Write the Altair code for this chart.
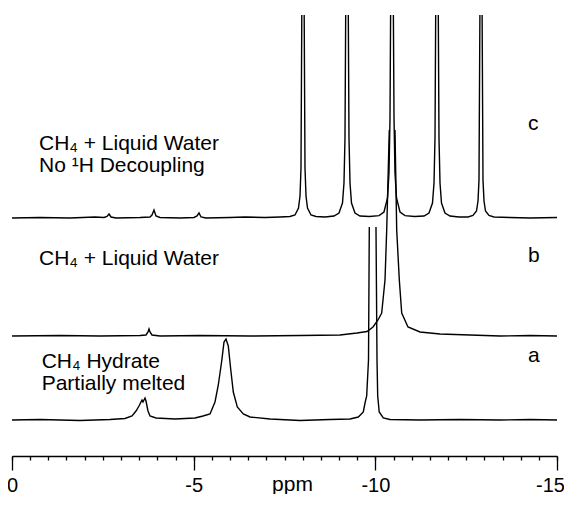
import altair as alt
import numpy as np
import pandas as pd

# ---- spectra: chemical shift (ppm) and intensity (a.u.)
# None marks where a peak runs off the top of its panel
a_ppm = [0, -0.771, -1.872, -2.697, -3.110, -3.303, -3.413, -3.495, -3.550, -3.578, -3.605,
         -3.661, -3.688, -3.743, -3.798, -3.963, -4.486, -5.037, -5.257, -5.450, -5.587,
         -5.678, -5.772, -5.835, -5.890, -5.953, -6.019, -6.091, -6.201, -6.366, -6.550,
         -7.101, -7.927, -8.752, -9.303, -9.531, -9.669, -9.716, -9.762, -9.812, -9.834,
         -9.927, -10.018, -10.046, -10.065, -10.107, -10.219, -10.404, -11.229, -12.330,
         -13.431, -14.257, -15.0]
a_int = [0, 0.5, -0.5, 0.5, 1.5, 4, 9, 14, 18, 20, 18,
         22, 19, 9, 4, 2, 1, 2, 4, 6, 18,
         35, 59, 78, 81, 74, 51, 28, 13, 6, 3,
         1, -0.5, 0.5, 1, 3, 8, 17, 24, 60, 193,
         None, 193, 60, 24, 8, 2, 0.5, 0, 0.5,
         0, 0.5, 0]

b_ppm = [0, -1.321, -2.422, -3.523, -3.688, -3.743, -3.771, -3.798, -3.853, -4.073, -5.174,
         -6.550, -7.927, -9.028, -9.495, -9.771, -9.936, -10.073, -10.175, -10.266, -10.313,
         -10.384, -10.459, -10.541, -10.588, -10.660, -10.726, -10.899, -11.229, -11.780,
         -12.606, -13.431, -14.257, -15.0]
b_int = [0, 0.5, 0, 0.5, 1, 4, 7, 4, 1, 0, 0.5,
         0, 0.5, 1, 3, 4.5, 9, 16, 23, 56, 106,
         206, None, 206, 106, 56, 23, 9, 4, 2,
         1, 0, 0.5, 0]

c_ppm = [0, -0.771, -1.596, -2.284, -2.532, -2.615, -2.670, -2.725, -2.862, -3.523, -3.798,
         -3.853, -3.908, -3.963, -4.073, -4.624, -5.009, -5.092, -5.147, -5.202, -5.339,
         -6.000, -6.413, -6.963, -7.376, -7.651, -7.789, -7.885, -7.927, -7.954, -7.976,
         -8.009, -8.042, -8.064, -8.092, -8.133, -8.229, -8.367, -8.615, -8.862, -9.000,
         -9.096, -9.137, -9.165, -9.184, -9.220, -9.256, -9.275, -9.303, -9.344, -9.440,
         -9.578, -9.840, -10.101, -10.238, -10.335, -10.376, -10.404, -10.420, -10.459,
         -10.497, -10.514, -10.541, -10.583, -10.679, -10.817, -11.078, -11.339, -11.477,
         -11.573, -11.615, -11.642, -11.661, -11.697, -11.733, -11.752, -11.780, -11.821,
         -11.917, -12.055, -12.303, -12.550, -12.688, -12.784, -12.826, -12.853, -12.878,
         -12.908, -12.939, -12.963, -12.991, -13.032, -13.128, -13.266, -13.706, -14.257,
         -15.0]
c_int = [0, 0.5, 0, 1, 0.5, 1.5, 4, 1, 0, 0.5, 1,
         3, 8, 2, 0.5, 0, 0.5, 2, 5, 1, 0,
         0.5, 1, 0.5, 1, 1.5, 3, 10, 22, 50, 203,
         None, 203, 50, 22, 10, 3, 1.5, 1, 2, 5,
         15, 35, 80, 203, None, 203, 80, 35, 15, 5,
         2, 1.5, 2.4, 6, 20, 45, 100, 203, None,
         203, 100, 45, 20, 6, 2.4, 1.5, 2, 5,
         15, 35, 80, 203, None, 203, 80, 35, 15,
         5, 2, 1, 1, 2.5, 7, 17, 38, 203,
         None, 203, 38, 17, 7, 2.5, 1, 0.5, 0,
         0.5]

# vertical offset of each trace in the stack
offsets = {"a": 0, "b": 84, "c": 202}

# annotation texts and where they sit (ppm, stacked intensity)
label_text = ["CH\u2084 + Liquid Water", "No \u00b9H Decoupling", "c",
              "CH\u2084 + Liquid Water", "b",
              "CH\u2084 Hydrate", "Partially melted", "a"]
label_ppm = [-0.743, -0.743, -14.202, -0.743, -14.202, -0.817, -0.817, -14.202]
label_v = [270, 248.5, 290, 155, 158.3, 51.7, 30, 58.3]

major_ticks = [0, -5, -10, -15]
minor_ticks = [-i * 0.5 for i in range(0, 31)]

frames = []
for name, xs, ys in (("a", a_ppm, a_int), ("b", b_ppm, b_int), ("c", c_ppm, c_int)):
    d = pd.DataFrame({"ppm": xs, "inten": pd.array(ys, dtype="Float64").astype(float)})
    d["v"] = d["inten"] + offsets[name]
    d["trace"] = name
    frames.append(d)
spec = pd.concat(frames, ignore_index=True)

labels_df = pd.DataFrame({"text": label_text, "ppm": label_ppm, "v": label_v})
ticks_df = pd.DataFrame({"ppm": minor_ticks})

FONT = "Liberation Sans"

xscale = alt.Scale(domain=[0, -15], nice=False, zero=False)
yscale = alt.Scale(domain=[-36, 412], nice=False, zero=False)

major_axis = alt.Axis(
    values=major_ticks,
    tickSize=14,
    labelExpr="toString(datum.value)",
    labelOverlap=False,
    labelFlush=False,
    labelOffset={"condition": {"test": "datum.value <= -15", "value": -7}, "value": 0},
    labelFont=FONT,
    labelFontSize=20,
    labelColor="black",
    labelPadding=5,
    domainColor="black",
    domainWidth=1.3,
    tickColor="black",
    tickWidth=1.3,
    grid=False,
    title="ppm",
    titleFont=FONT,
    titleFontSize=21,
    titleFontWeight="normal",
    titleColor="black",
    titleX=280,
    titleY=34,
    titleBaseline="alphabetic",
    titleAlign="center",
    orient="bottom",
)

minor_axis = alt.Axis(
    values=minor_ticks,
    tickSize=4,
    tickColor="black",
    tickWidth=1.3,
    labels=False,
    domain=False,
    grid=False,
    title=None,
    orient="bottom",
)

lines = alt.Chart(spec).mark_line(
    color="black", strokeWidth=1.4, invalid="break-paths-show-domains", clip=True
).encode(
    x=alt.X("ppm:Q", scale=xscale, axis=major_axis),
    y=alt.Y("v:Q", scale=yscale, axis=None),
    detail="trace:N",
)

minor = alt.Chart(ticks_df).mark_point(opacity=0).encode(
    x=alt.X("ppm:Q", scale=xscale, axis=minor_axis),
    y=alt.value(0),
)

texts = alt.Chart(labels_df).mark_text(
    align="left", baseline="alphabetic", font=FONT, fontSize=21, color="black"
).encode(
    x=alt.X("ppm:Q", scale=xscale, axis=None),
    y=alt.Y("v:Q", scale=yscale),
    text="text:N",
)

chart = alt.layer(lines, minor, texts).resolve_axis(x="independent").properties(
    width=545,
    height=448,
    padding={"left": 4, "top": 0, "right": 7, "bottom": 38},
    autosize=alt.AutoSizeParams(type="none"),
).configure_view(strokeWidth=0)

chart.save("out.html", embed_options={"renderer": "svg", "actions": False})
